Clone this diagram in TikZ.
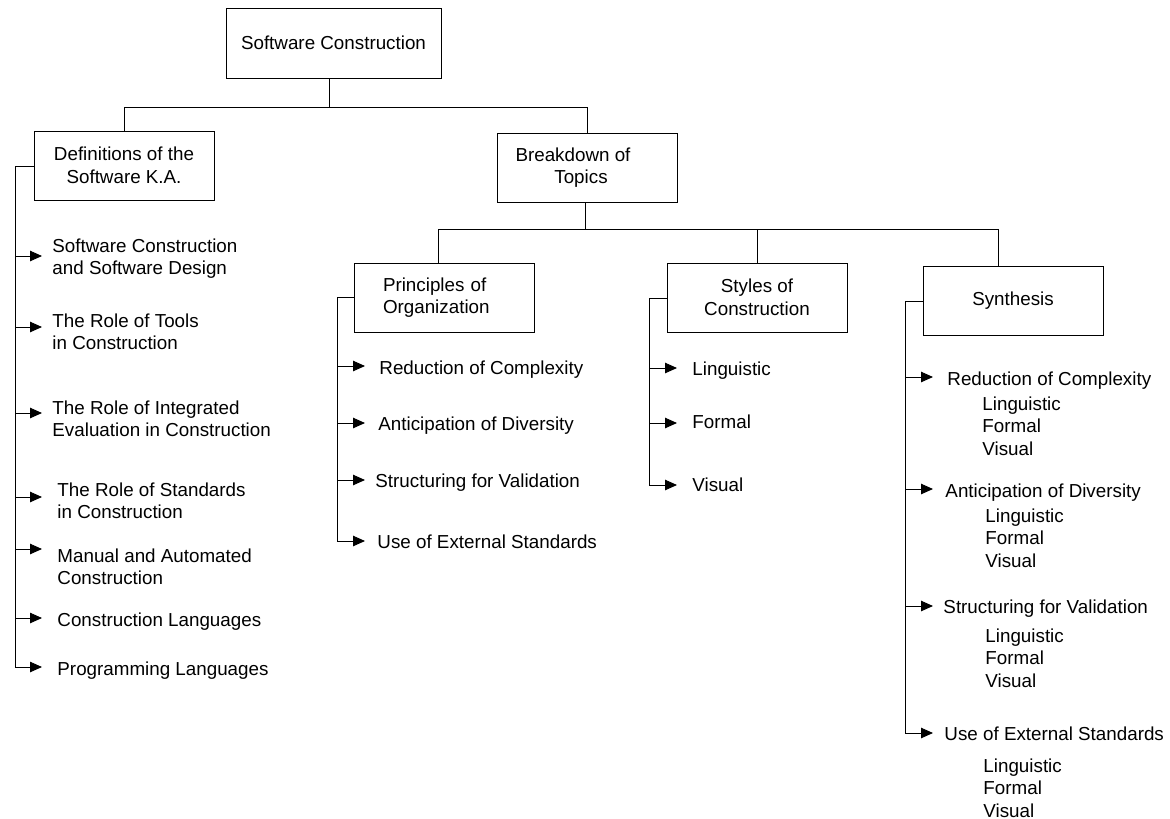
\documentclass[tikz,border=0pt]{standalone}
\usepackage{fontspec}
\setmainfont{Liberation Sans}
\usetikzlibrary{arrows.meta}
\newcommand{\diagfont}{\fontsize{18.8}{22.5}\selectfont}
\begin{document}
\begin{tikzpicture}[x=1pt,y=-1pt,line width=0.9pt,
  box/.style={draw, line width=1pt, minimum width=180pt, minimum height=69pt, inner sep=0pt, align=center, font=\diagfont},
  txt/.style={inner sep=0pt, anchor=base west, align=left, font=\diagfont},
  arr/.style={-{Triangle[length=12pt,width=10.5pt]}}]
\path[use as bounding box] (0,0) rectangle (1170,819);

% boxes
\node[box, minimum width=215pt, minimum height=70pt] (root) at (333.5,43) {Software Construction};
\node[box] (def) at (124,165.5) {Definitions of the\\Software K.A.};
\node[box] (brk) at (587,167.5) {Breakdown of\hspace*{28pt}\\Topics\hspace*{12pt}};
\node[box, align=left, text width=122pt, inner xsep=29pt] (prn) at (444,297.5) {Principles of\\Organization};
\node[box] (sty) at (757,297.5) {Styles of\\Construction};
\node[box] (syn) at (1013,300.5) {Synthesis};

% tree connectors
\coordinate (j1) at (329,107);
\draw (root.south -| j1) -- (j1);
\draw (def.north) -- (def.north |- j1) -- (j1 -| brk.north) -- (brk.north);
\coordinate (j2) at (585,229);
\coordinate (pup) at (438,229);
\coordinate (synup) at (998,229);
\draw (brk.south -| j2) -- (j2);
\draw (pup |- prn.north) -- (pup) -- (synup) -- (synup |- syn.north);
\draw (sty.north) -- (sty.north |- j2);

% left column (multi-line nodes: base = last line's baseline)
\coordinate (dl) at (15,166);
\coordinate (a1) at (42,256);
\coordinate (a2) at (42,327);
\coordinate (a3) at (42,413);
\coordinate (a4) at (42,497);
\coordinate (a5) at (42,549);
\coordinate (a6) at (42,618);
\coordinate (a7) at (42,667);
\draw (def.west |- dl) -- (dl) -- (dl |- a7);
\foreach \i in {1,...,7} \draw[arr] (dl |- a\i) -- (a\i);
\node[txt] (t1) at (52,274.5) {Software Construction\\and Software Design};
\node[txt] (t2) at (52,349.5) {The Role of Tools\\in Construction};
\node[txt] (t3) at (52,436.5) {The Role of Integrated\\Evaluation in Construction};
\node[txt] (t4) at (57,518.5) {The Role of Standards\\in Construction};
\node[txt] (t5) at (57,584.5) {Manual and Automated\\Construction};
\node[txt] (t6) at (57,626) {Construction Languages};
\node[txt] (t7) at (57,675) {Programming Languages};

% principles column
\coordinate (pl) at (337,297);
\coordinate (b1) at (365,366);
\coordinate (b2) at (365,423);
\coordinate (b3) at (365,480);
\coordinate (b4) at (365,541);
\draw (prn.west |- pl) -- (pl) -- (pl |- b4);
\foreach \i in {1,...,4} \draw[arr] (pl |- b\i) -- (b\i);
\node[txt] (p1) at (379,374) {Reduction of Complexity};
\node[txt] (p2) at (378,430) {Anticipation of Diversity};
\node[txt] (p3) at (375,487) {Structuring for Validation};
\node[txt] (p4) at (377,548) {Use of External Standards};

% styles column
\coordinate (sl) at (649,298);
\coordinate (c1) at (677,368);
\coordinate (c2) at (677,423);
\coordinate (c3) at (677,485);
\draw (sty.west |- sl) -- (sl) -- (sl |- c3);
\foreach \i in {1,...,3} \draw[arr] (sl |- c\i) -- (c\i);
\node[txt] (s1) at (692,375) {Linguistic};
\node[txt] (s2) at (692,428) {Formal};
\node[txt] (s3) at (692,491) {Visual};

% synthesis column
\coordinate (yl) at (905,301);
\coordinate (d1) at (933,377);
\coordinate (d2) at (933,489);
\coordinate (d3) at (933,606);
\coordinate (d4) at (933,733);
\draw (syn.west |- yl) -- (yl) -- (yl |- d4);
\foreach \i in {1,...,4} \draw[arr] (yl |- d\i) -- (d\i);
\node[txt] (y1) at (947,385) {Reduction of Complexity};
\node[txt] (y2) at (945,497) {Anticipation of Diversity};
\node[txt] (y3) at (943,613) {Structuring for Validation};
\node[txt] (y4) at (944,740) {Use of External Standards};
\node[txt] (z1) at (982,455) {Linguistic\\Formal\\Visual};
\node[txt] (z2) at (985,567) {Linguistic\\Formal\\Visual};
\node[txt] (z3) at (985,687) {Linguistic\\Formal\\Visual};
\node[txt] (z4) at (983,817) {Linguistic\\Formal\\Visual};
\end{tikzpicture}
\end{document}
